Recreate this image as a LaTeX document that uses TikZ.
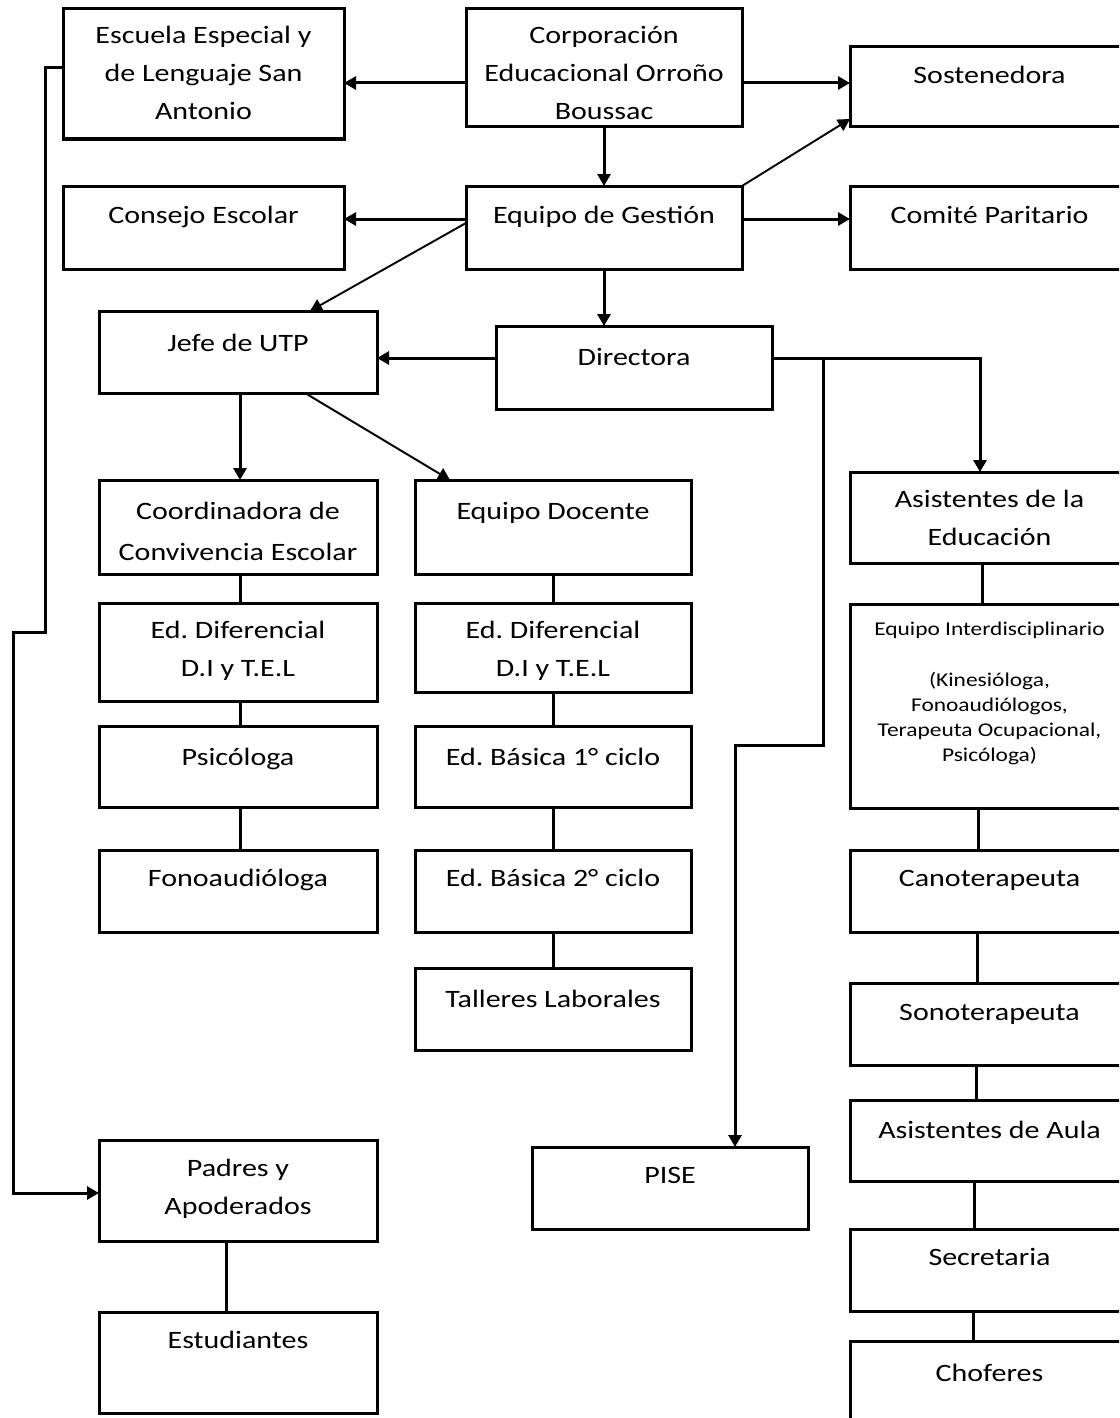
\documentclass[tikz,border=0pt]{standalone}
\usepackage{fontspec}
\newfontfamily\calf{Carlito}[FakeStretch=1.2]
\usetikzlibrary{arrows.meta,fit}
\frenchspacing
\tikzset{
  boxst/.style={draw, line width=3pt, inner sep=0pt, outer sep=0pt},
  txt/.style={font=\calf\fontsize{25}{38}\selectfont\frenchspacing, align=center, inner sep=0pt},
  smalltxt/.style={font=\calf\fontsize{19.5}{25}\selectfont\frenchspacing, align=center, inner sep=0pt},
  con/.style={line width=3pt},
  arr/.style={con, -{Triangle[length=12pt,width=13pt]}},
  darr/.style={line width=1.9pt, -{Triangle[length=12pt,width=13pt]}},
}
\newcommand\bx[7]{%
  \node[boxst, fit={(#2,#3) (#4,#5)}] (#1) {};
  \node[txt, anchor=north] (#1-t) at ({(#2+#4)/2},{#6-18.6}) {\strut #7};
}
\begin{document}
\begin{tikzpicture}[x=1pt,y=-1pt]
\useasboundingbox (0,0) rectangle (1119,1418);
\clip (0,0) rectangle (1119,1418);
\fill[white] (0,0) rectangle (1119,1418);

\bx{esc}{63}{9}{344}{139}{35}{Escuela Especial y\\de Lenguaje San\\Antonio}
\bx{corp}{466}{9}{742}{127}{35}{Corporación\\Educacional Orroño\\Boussac}
\bx{sost}{850}{47}{1129}{127}{75}{Sostenedora}
\bx{cons}{63}{186}{344}{269}{215}{Consejo Escolar}
\bx{gest}{466}{186}{742}{269}{215}{Equipo de Gestión}
\bx{com}{850}{186}{1129}{269}{215}{Comité Paritario}
\bx{jefe}{99}{311}{377}{393}{343}{Jefe de UTP}
\bx{dir}{496}{326}{772}{409}{357}{Directora}
\bx{coord}{99}{480}{377}{574}{511}{Coordinadora de\\[3pt]Convivencia Escolar}
\bx{doc}{415}{480}{691}{574}{511}{Equipo Docente}
\bx{asist}{850}{472}{1129}{563}{499}{Asistentes de la\\Educación}
\bx{edl}{99}{603}{377}{701}{630}{Ed. Diferencial\\D.I y T.E.L}
\bx{edm}{415}{603}{691}{692}{630}{Ed. Diferencial\\D.I y T.E.L}
\node[boxst, fit={(850,604) (1129,808)}] (interd) {};
\node[smalltxt, anchor=north] (interd-t) at (989.5,617.8) {\strut Equipo Interdisciplinario\\[26pt](Kinesióloga,\\Fonoaudiólogos,\\Terapeuta Ocupacional,\\Psicóloga)};
\bx{psi}{99}{726}{377}{807}{757}{Psicóloga}
\bx{bas1}{415}{726}{691}{807}{757}{Ed. Básica 1° ciclo}
\bx{fono}{99}{850}{377}{932}{878}{Fonoaudióloga}
\bx{bas2}{415}{850}{691}{932}{878}{Ed. Básica 2° ciclo}
\bx{cano}{850}{850}{1129}{932}{878}{Canoterapeuta}
\bx{tall}{415}{968}{691}{1050}{999}{Talleres Laborales}
\bx{sono}{850}{983}{1129}{1065}{1012}{Sonoterapeuta}
\bx{aula}{850}{1100}{1129}{1181}{1130}{Asistentes de Aula}
\bx{pise}{532}{1147}{808}{1229}{1175}{PISE}
\bx{pad}{99}{1140}{377}{1241}{1168}{Padres y\\Apoderados}
\bx{sec}{850}{1229}{1129}{1311}{1257}{Secretaria}
\bx{est}{99}{1312}{377}{1413}{1340}{Estudiantes}
\bx{chof}{850}{1341}{1129}{1440}{1373}{Choferes}

% helper coordinates
\coordinate (h83) at (0,83);
\coordinate (h219) at (0,219);
\coordinate (h358) at (0,358);
\coordinate (s119) at (0,119);
\coordinate (g223) at (0,223);
\coordinate (x310) at (310,0);
\coordinate (x305) at (305,0);
\coordinate (x450) at (450,0);
\coordinate (x240) at (240,0);
\coordinate (x226) at (226,0);
\coordinate (x980) at (980,0);
\coordinate (b1) at (823,358);
\coordinate (b2) at (823,745);
\coordinate (b3) at (735,745);
\coordinate (e0) at (0,68);
\coordinate (e1) at (45,68);
\coordinate (e2) at (45,632);
\coordinate (e3) at (13,632);
\coordinate (e4) at (13,1193);

% top connectors
\draw[arr] (corp.west |- h83) -- (esc.east |- h83);
\draw[arr] (corp.east |- h83) -- (sost.west |- h83);
\draw[arr] (corp.south) -- (gest.north);
\draw[darr] (gest.north east) -- (sost.west |- s119);
\draw[arr] (gest.west |- h219) -- (cons.east |- h219);
\draw[arr] (gest.east |- h219) -- (com.west |- h219);
\draw[darr] (gest.west |- g223) -- (jefe.north -| x310);
\draw[arr] (gest.south) -- (gest.south |- dir.north);
\draw[arr] (dir.west |- h358) -- (jefe.east |- h358);
\draw[arr] (dir.east |- h358) -| (asist.north -| x980);
\draw[arr] (b1) -- (b2) -- (b3) -- (pise.north -| b3);
\draw[arr] (jefe.south -| x240) -- (coord.north -| x240);
\draw[darr] (jefe.south -| x305) -- (doc.north -| x450);

% left chain
\draw[con] (coord.south -| x240) -- (edl.north -| x240);
\draw[con] (edl.south -| x240) -- (psi.north -| x240);
\draw[con] (psi.south -| x240) -- (fono.north -| x240);

% middle chain
\draw[con] (doc.south) -- (edm.north);
\draw[con] (edm.south) -- (bas1.north);
\draw[con] (bas1.south) -- (bas2.north);
\draw[con] (bas2.south) -- (tall.north);

% right chain
\coordinate (r1) at (982,0);
\coordinate (r2) at (978,0);
\coordinate (r3) at (977,0);
\coordinate (r4) at (976,0);
\coordinate (r5) at (974,0);
\coordinate (r6) at (973,0);
\draw[con] (asist.south -| r1) -- (interd.north -| r1);
\draw[con] (interd.south -| r2) -- (cano.north -| r2);
\draw[con] (cano.south -| r3) -- (sono.north -| r3);
\draw[con] (sono.south -| r4) -- (aula.north -| r4);
\draw[con] (aula.south -| r5) -- (sec.north -| r5);
\draw[con] (sec.south -| r6) -- (chof.north -| r6);

% Escuela to Padres
\draw[arr] (esc.west |- e0) -- (e1) -- (e2) -- (e3) -- (e4) -- (pad.west |- e4);
\draw[con] (pad.south -| x226) -- (est.north -| x226);
\end{tikzpicture}
\end{document}
